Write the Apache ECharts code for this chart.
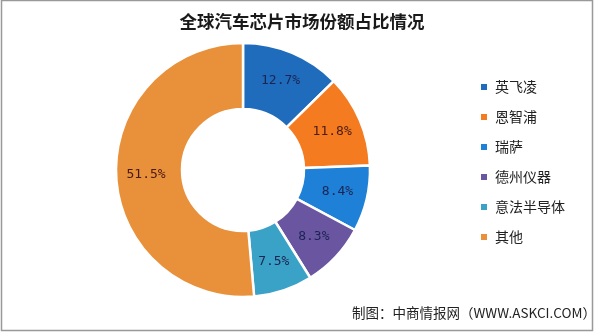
<!DOCTYPE html>
<html><head><meta charset="utf-8">
<script src="https://cdn.jsdelivr.net/npm/echarts@6/dist/echarts.min.js"></script>
<style>html,body{margin:0;padding:0;background:#fff}#c{width:600px;height:334px}</style>
</head><body><div id="c"></div>
<script>
const categories = ['英飞凌','恩智浦','瑞萨','德州仪器','意法半导体','其他'];
const shares = [12.7, 11.8, 8.4, 8.3, 7.5, 51.5];
const colors = ['#1f6cbd','#f47b20','#1e80d6','#6a55a0','#3aa2c6','#e8903a'];
const labelColors = ['#1b2452','#4a1a14','#1b2452','#1b2452','#1b2452','#4a1a14'];

const chart = echarts.init(document.getElementById('c'));
chart.setOption({
  backgroundColor:'#fff',
  color: colors,
  animation:false,
  title:{text:'全球汽车芯片市场份额占比情况', left:297, top:8, textAlign:'center',
    textStyle:{fontFamily:'Noto Sans CJK SC', fontSize:17.5, fontWeight:'bold', color:'#1a1a1a'}},
  legend:{orient:'vertical', left:474, top:75, itemWidth:8, itemHeight:8, itemGap:16, icon:'rect',
    textStyle:{fontFamily:'Noto Sans CJK SC', fontSize:14, color:'#222', padding:[0,0,0,2]},
    data: categories},
  graphic:[
    {type:'rect', shape:{x:1.5,y:0.5,width:591,height:330}, style:{fill:'none', stroke:'#999', lineWidth:1.5}},
    {type:'text', left:352, top:306, style:{text:'制图：中商情报网（WWW.ASKCI.COM）', fontFamily:'Noto Sans CJK SC', fontSize:13.5, fill:'#222'}}
  ],
  series:[{
    type:'pie', center:[243,170], radius:[61,127], startAngle:90, clockwise:true,
    itemStyle:{borderColor:'#fff', borderWidth:2.5},
    label:{show:true, position:'inside', fontFamily:'DejaVu Sans Mono', fontSize:13,
      formatter: p => p.value + '%'},
    labelLine:{show:false},
    data: categories.map((n,i)=>({name:n, value:shares[i], label:{color:labelColors[i]}}))
  }]
});
</script></body></html>
